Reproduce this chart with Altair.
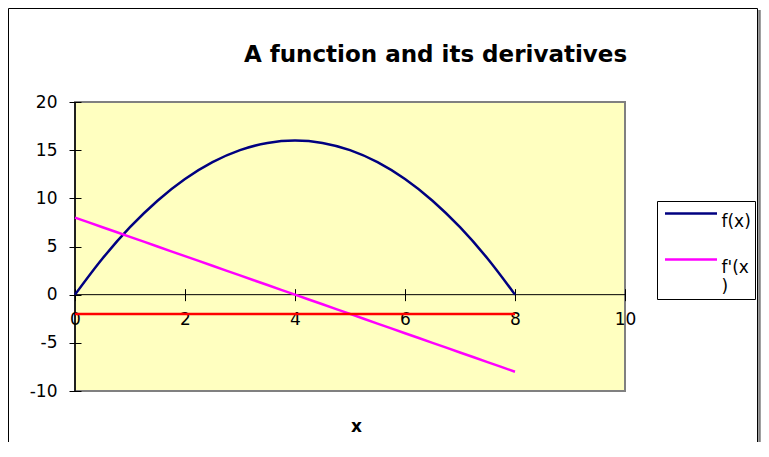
import altair as alt
import pandas as pd

# values
x_vals = [0, 0.5, 1, 1.5, 2, 2.5, 3, 3.5, 4, 4.5, 5, 5.5, 6, 6.5, 7, 7.5, 8]
f_vals = [0, 3.75, 7, 9.75, 12, 13.75, 15, 15.75, 16, 15.75, 15, 13.75, 12, 9.75, 7, 3.75, 0]
fp_vals = [8, 7, 6, 5, 4, 3, 2, 1, 0, -1, -2, -3, -4, -5, -6, -7, -8]
fpp_vals = [-2, -2, -2, -2, -2, -2, -2, -2, -2, -2, -2, -2, -2, -2, -2, -2, -2]
series_names = ["f(x)", "f'(x)", "f''(x)"]
series_colors = ["#000080", "#FF00FF", "#FF0000"]
x_ticks = [0, 2, 4, 6, 8, 10]
y_ticks = [-10, -5, 0, 5, 10, 15, 20]

rows = []
for name, vals in zip(series_names, [f_vals, fp_vals, fpp_vals]):
    for xv, yv in zip(x_vals, vals):
        rows.append({"x": xv, "y": yv, "series": name})
df = pd.DataFrame(rows)

FONT = "DejaVu Sans"

xscale = alt.Scale(domain=[0, 10], nice=False, zero=False)
yscale = alt.Scale(domain=[-10, 20], nice=False, zero=False)

x_axis = alt.Axis(
    values=x_ticks, offset=-102.33, tickSize=12, domain=False, grid=False,
    tickColor="black", labelFont=FONT, labelFontSize=17, labelColor="black",
    labelPadding=11, labelFlush=False, labelOverlap=False,
    labelExpr="'' + datum.value",
    title="x", titleFont=FONT, titleFontSize=17, titleFontWeight="bold",
    titleColor="black", titleX=281, titleY=142.7, titleAlign="center",
    titleBaseline="alphabetic",
)
y_axis = alt.Axis(
    values=y_ticks, offset=-6, tickSize=12, domain=False, grid=False,
    tickColor="black", labelFont=FONT, labelFontSize=17, labelColor="black",
    labelPadding=12, labelFlush=False, labelOverlap=False, title=None,
    labelExpr="'' + datum.value",
)

one = pd.DataFrame({"a": [0]})

frame = alt.Chart(one).mark_rect(fill=None, stroke="black", strokeWidth=1).encode(
    x=alt.value(-66.5), x2=alt.value(682.5), y=alt.value(-93.5), y2=alt.value(420)
)
frame_shadow = alt.Chart(one).mark_rule(stroke="#808080", strokeWidth=2.5).encode(
    x=alt.value(684.5), y=alt.value(-92), y2=alt.value(420)
)

zero_h = alt.Chart(one).mark_rule(color="black", strokeWidth=1).encode(
    y=alt.datum(0, scale=yscale)
)
zero_v = alt.Chart(one).mark_rule(color="black", strokeWidth=1.5).encode(
    x=alt.datum(0, scale=xscale)
)

lines = alt.Chart(df).mark_line(strokeWidth=2.5, clip=False, interpolate="monotone").encode(
    x=alt.X("x:Q", scale=xscale, axis=x_axis),
    y=alt.Y("y:Q", scale=yscale, axis=y_axis),
    color=alt.Color(
        "series:N",
        scale=alt.Scale(domain=series_names, range=series_colors),
        legend=alt.Legend(
            values=["f(x)", "f'(x)"], title=None, orient="none",
            legendX=582, legendY=99, symbolType="M-4,0H4", symbolSize=169,
            symbolStrokeWidth=2.5, symbolOffset=21.5,
            labelFont=FONT, labelFontSize=17,
            labelColor="black", labelBaseline="top",
            labelExpr='datum.value == "f\'(x)" ? ["f\'(x", ")"] : datum.label',
            strokeColor="black", fillColor="white", padding=4, rowPadding=21,
            labelOffset=22,
        ),
    ),
    order=alt.Order("x:Q"),
)

chart = alt.layer(frame, frame_shadow, zero_h, zero_v, lines).properties(
    width=550, height=289,
    autosize=alt.AutoSizeParams(type="none"),
    padding={"left": 67, "top": 94, "right": 136, "bottom": 51},
    title=alt.TitleParams(
        "A function and its derivatives", font=FONT, fontSize=23,
        fontWeight="bold", color="black", anchor="middle", dx=85.5,
        baseline="alphabetic", offset=-77,
    ),
).configure(
    background="white",
    view={"fill": "#FFFFC0", "stroke": "#808080", "strokeWidth": 2},
    style={"guide-label": {"lineHeight": 19.5}},
)

chart.save("out.html", embed_options={"renderer": "svg", "actions": False})
